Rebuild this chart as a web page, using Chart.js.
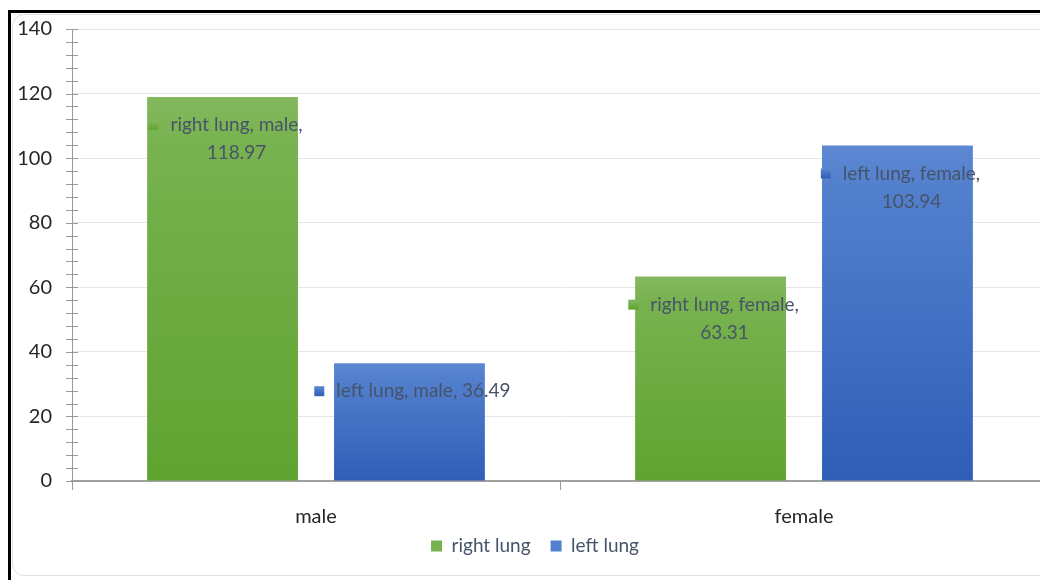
<!DOCTYPE html>
<html>
<head>
<meta charset="utf-8">
<script src="https://cdn.jsdelivr.net/npm/chart.js@4"></script>
<style>
  html, body { margin: 0; padding: 0; background: #fff; overflow: hidden; width: 1040px; height: 580px; }
  #chart { position: absolute; left: 0; top: 0; }
  #frame { position: absolute; left: 8px; top: 10px; width: 1100px; height: 700px;
           border-top: 3px solid #000; border-left: 3px solid #000; pointer-events: none; }
  #inner { position: absolute; left: 12px; top: 14px; width: 1100px; height: 560px;
           border: 1px solid #dcdfe4; border-radius: 12px; pointer-events: none; }
</style>
</head>
<body>
<canvas id="chart" width="1048" height="580"></canvas>
<div id="inner"></div>
<div id="frame"></div>
<script>
// datos de la grafica
var categories = ['male', 'female'];
var seriesNames = ['right lung', 'left lung'];
var rightLung = [118.97, 63.31];
var leftLung = [36.49, 103.94];
var yMin = 0, yMax = 140, yStep = 20, yMinorStep = 4;

var colores = {
	'right lung': ['#84b95f', '#78b24f', '#60a330'],
	'left lung': ['#5d87d2', '#5380cd', '#2f5eb7']
};
var fuente = 'Lato, "Open Sans", sans-serif';

function relleno(nombre){
	return function (ctx) {
		var chart = ctx.chart;
		if (!chart.chartArea || ctx.raw === undefined) return colores[nombre][1];
		var y = chart.scales.y;
		var top = y.getPixelForValue(ctx.raw);
		var bottom = y.getPixelForValue(0);
		var g = chart.ctx.createLinearGradient(0, top, 0, bottom);
		g.addColorStop(0, colores[nombre][0]);
		g.addColorStop(0.12, colores[nombre][1]);
		g.addColorStop(1, colores[nombre][2]);
		return g;
	};
}

// marcas menores del eje y (cruzan el eje)
var marcasMenores = {
	id: 'marcasMenores',
	afterDraw: function (chart) {
		var c = chart.ctx, y = chart.scales.y, x0 = y.right;
		c.save();
		c.strokeStyle = '#9a9a9a';
		c.lineWidth = 1;
		c.beginPath();
		for (var v = yMin; v <= yMax; v += yMinorStep) {
			var py = Math.round(y.getPixelForValue(v)) + 0.5;
			c.moveTo(x0 - 6, py);
			c.lineTo(x0 + 6, py);
		}
		c.moveTo(x0 + 0.5, y.getPixelForValue(yMin));
		c.lineTo(x0 + 0.5, y.getPixelForValue(yMin) + 8);
		c.stroke();
		c.restore();
	}
};

// correr la leyenda, como en el original
var leyendaCorrida = {
	id: 'leyendaCorrida',
	afterLayout: function (chart) {
		chart.legend.left += 11;
		chart.legend.right += 11;
		chart.legend.top -= 14.5;
		chart.legend.bottom -= 14.5;
	}
};

// etiquetas de datos estilo excel
var etiquetas = {
	id: 'etiquetas',
	afterDatasetsDraw: function (chart) {
		var c = chart.ctx;
		c.save();
		c.font = '19px ' + fuente;
		c.textBaseline = 'middle';
		chart.data.datasets.forEach(function (ds, i) {
			var meta = chart.getDatasetMeta(i);
			meta.data.forEach(function (bar, j) {
				var valor = ds.data[j].toFixed(2);
				var cat = chart.data.labels[j];
				var completo = ds.label + ', ' + cat + ', ' + valor;
				var lineas = c.measureText(completo).width > 182
					? [ds.label + ', ' + cat + ',', valor]
					: [completo];
				var w1 = c.measureText(lineas[0]).width;
				var ancho = 10 + 12 + w1;
				var x0 = bar.x - ancho / 2 + 3;
				var y0 = bar.y + 28;
				var g = c.createLinearGradient(0, y0 - 5, 0, y0 + 5);
				g.addColorStop(0, colores[ds.label][0]);
				g.addColorStop(1, colores[ds.label][2]);
				c.fillStyle = g;
				c.fillRect(x0, y0 - 5, 10, 10);
				c.fillStyle = '#46546a';
				c.textAlign = 'left';
				c.fillText(lineas[0], x0 + 22, y0);
				if (lineas[1]) {
					c.textAlign = 'center';
					c.fillText(lineas[1], x0 + 22 + w1 / 2, y0 + 28);
				}
			});
		});
		c.restore();
	}
};

var grafica = new Chart(document.getElementById('chart'), {
	type: 'bar',
	data: {
		labels: categories,
		datasets: [
			{ label: seriesNames[0], data: rightLung, backgroundColor: relleno('right lung') },
			{ label: seriesNames[1], data: leftLung, backgroundColor: relleno('left lung') }
		]
	},
	options: {
		responsive: false,
		animation: false,
		categoryPercentage: 0.766,
		barPercentage: 0.807,
		layout: { padding: { top: 29, bottom: 0, left: 0, right: 0 } },
		scales: {
			x: {
				afterFit: function (s) { s.height = 50; },
				grid: { offset: true, drawOnChartArea: false, drawTicks: true, tickLength: 9, tickColor: '#9a9a9a' },
				border: { color: '#a0a0a0', width: 2 },
				ticks: { color: '#262626', font: { family: fuente, size: 20 }, padding: 15 }
			},
			y: {
				min: yMin, max: yMax,
				afterFit: function (s) { s.width = 72; s.paddingTop = 0; s.paddingBottom = 0; },
				grid: { color: '#e4e6ea', drawTicks: false },
				border: { color: '#9a9a9a', width: 1 },
				ticks: { stepSize: yStep, color: '#262626', font: { family: fuente, size: 20 }, padding: 20 }
			}
		},
		plugins: {
			legend: {
				position: 'bottom',
				labels: { boxWidth: 11, boxHeight: 11, padding: 20, color: '#46546a', font: { family: fuente, size: 19 },
					generateLabels: function (chart) {
						return chart.data.datasets.map(function (ds, i) {
							return { text: ds.label, fillStyle: colores[ds.label][1], strokeStyle: colores[ds.label][1],
								lineWidth: 0, datasetIndex: i, fontColor: '#46546a' };
						});
					}
				}
			},
			tooltip: { enabled: false }
		}
	},
	plugins: [marcasMenores, etiquetas, leyendaCorrida]
});
</script>
</body>
</html>
